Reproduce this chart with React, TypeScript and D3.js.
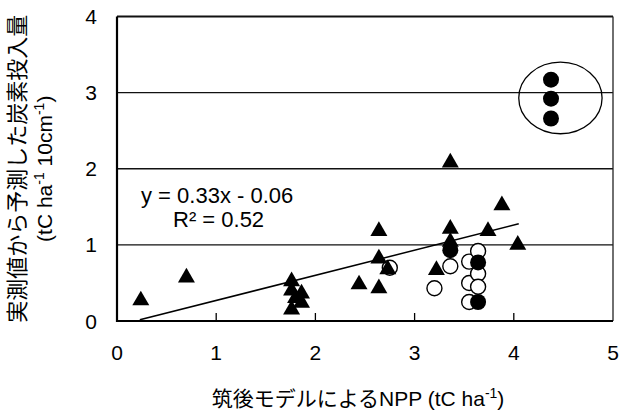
import { useEffect, useRef } from 'react';
import * as d3 from 'd3';

// 三角: 予測値との比較データ
const triangles: [number, number][] = [
  [0.24, 0.27], [0.7, 0.57],
  [1.76, 0.52], [1.76, 0.4], [1.8, 0.3], [1.76, 0.15], [1.86, 0.36], [1.86, 0.24],
  [2.44, 0.48], [2.64, 1.18], [2.64, 0.82], [2.64, 0.43], [2.73, 0.68],
  [3.22, 0.67], [3.36, 2.08], [3.36, 1.21], [3.36, 1.04],
  [3.74, 1.18], [3.88, 1.52], [4.04, 1.0],
];
const openCircles: [number, number][] = [
  [2.75, 0.7], [3.2, 0.43], [3.36, 0.72],
  [3.55, 0.78], [3.55, 0.5], [3.55, 0.25],
  [3.64, 0.92], [3.64, 0.62], [3.64, 0.45],
];
const filledCircles: [number, number][] = [
  [3.36, 0.93], [3.64, 0.77], [3.64, 0.25],
  [4.375, 3.17], [4.375, 2.92], [4.375, 2.66],
];
const xTicks = [0, 1, 2, 3, 4, 5];
const yTicks = [0, 1, 2, 3, 4];
const trend = { slope: 0.33, intercept: -0.06, x0: 0.23, x1: 4.05 };
const outlier = { cx: 4.47, cy: 2.93, rx: 0.42, ry: 0.47 };

const width = 620;
const height = 414;
const latin = "'Liberation Sans', Arial, 'Noto Sans CJK JP', sans-serif";
const cjk = "'Noto Sans CJK JP', sans-serif";

const App = () => {
  const svgRef = useRef<SVGSVGElement>(null);

  useEffect(() => {
    document.body.style.margin = '0';
    const svg = d3.select(svgRef.current);
    svg.selectAll('*').remove();

    const x = d3.scaleLinear().domain([0, 5]).range([117, 613]);
    const y = d3.scaleLinear().domain([0, 4]).range([321, 16.5]);

    svg.append('rect').attr('width', width).attr('height', height).attr('fill', '#fff');

    // グリッド線
    svg.selectAll('.grid')
      .data(yTicks.filter(d => d > 0))
      .enter().append('line')
      .attr('x1', x(0)).attr('x2', x(5))
      .attr('y1', d => y(d)).attr('y2', d => y(d))
      .attr('stroke', '#111')
      .attr('stroke-width', d => (d === 4 ? 1.8 : 1.3));

    // 右枠
    svg.append('line')
      .attr('x1', x(5)).attr('x2', x(5))
      .attr('y1', y(4)).attr('y2', y(0))
      .attr('stroke', '#222').attr('stroke-width', 1.3);

    // x軸の目盛り (内向き)
    svg.selectAll('.xtick')
      .data(xTicks.slice(1, -1))
      .enter().append('line')
      .attr('x1', d => x(d)).attr('x2', d => x(d))
      .attr('y1', y(0)).attr('y2', y(0) - 8)
      .attr('stroke', '#000').attr('stroke-width', 1.3);

    // 軸
    svg.append('line')
      .attr('x1', x(0)).attr('x2', x(5))
      .attr('y1', y(0)).attr('y2', y(0))
      .attr('stroke', '#000').attr('stroke-width', 2.2);
    svg.append('line')
      .attr('x1', x(0)).attr('x2', x(0))
      .attr('y1', y(4)).attr('y2', y(0) + 1)
      .attr('stroke', '#000').attr('stroke-width', 2.2);

    // 目盛りラベル
    svg.selectAll('.xlab')
      .data(xTicks)
      .enter().append('text')
      .attr('x', d => x(d)).attr('y', 360)
      .attr('text-anchor', 'middle')
      .attr('font-family', latin).attr('font-size', 21)
      .text(d => d);
    svg.selectAll('.ylab')
      .data(yTicks)
      .enter().append('text')
      .attr('x', 97).attr('y', d => y(d) + 7.5)
      .attr('text-anchor', 'end')
      .attr('font-family', latin).attr('font-size', 21)
      .text(d => d);

    // 回帰直線
    svg.append('line')
      .attr('x1', x(trend.x0)).attr('y1', y(trend.slope * trend.x0 + trend.intercept))
      .attr('x2', x(trend.x1)).attr('y2', y(trend.slope * trend.x1 + trend.intercept))
      .attr('stroke', '#000').attr('stroke-width', 1.5);

    // 白丸
    svg.selectAll('.open')
      .data(openCircles)
      .enter().append('circle')
      .attr('cx', d => x(d[0])).attr('cy', d => y(d[1]))
      .attr('r', 7.5)
      .attr('fill', '#fff').attr('stroke', '#000').attr('stroke-width', 1.4);

    // 三角
    const tri = d3.symbol().type(d3.symbolTriangle).size(125);
    svg.selectAll('.tri')
      .data(triangles)
      .enter().append('path')
      .attr('transform', d => `translate(${x(d[0])},${y(d[1])})`)
      .attr('d', tri)
      .attr('fill', '#000');

    // 黒丸
    svg.selectAll('.filled')
      .data(filledCircles)
      .enter().append('circle')
      .attr('cx', d => x(d[0])).attr('cy', d => y(d[1]))
      .attr('r', 8)
      .attr('fill', '#000');

    // 外れ値の楕円
    svg.append('ellipse')
      .attr('cx', x(outlier.cx)).attr('cy', y(outlier.cy))
      .attr('rx', x(outlier.rx) - x(0)).attr('ry', y(0) - y(outlier.ry))
      .attr('fill', 'none').attr('stroke', '#000').attr('stroke-width', 1.3);

    // 回帰式
    svg.append('text')
      .attr('x', 141).attr('y', 203)
      .attr('font-family', latin).attr('font-size', 22)
      .text('y = 0.33x - 0.06');
    svg.append('text')
      .attr('x', 173).attr('y', 227)
      .attr('font-family', latin).attr('font-size', 22)
      .text('R² = 0.52');

    // x軸タイトル
    const xt = svg.append('text')
      .attr('x', 358).attr('y', 406)
      .attr('text-anchor', 'middle')
      .attr('font-size', 21);
    xt.append('tspan').attr('font-family', cjk).text('筑後モデルによる');
    xt.append('tspan').attr('font-family', latin).text('NPP (tC ha');
    xt.append('tspan').attr('font-family', latin).attr('font-size', 14).attr('dy', -8).text('-1');
    xt.append('tspan').attr('font-family', latin).attr('dy', 8).text(')');

    // y軸タイトル
    const yg = svg.append('g').attr('transform', `translate(0,${(y(0) + y(4)) / 2}) rotate(-90)`);
    yg.append('text')
      .attr('x', 0).attr('y', 25)
      .attr('text-anchor', 'middle')
      .attr('font-family', cjk).attr('font-size', 22)
      .text('実測値から予測した炭素投入量');
    const yt = yg.append('text')
      .attr('x', 0).attr('y', 52)
      .attr('text-anchor', 'middle')
      .attr('font-family', latin).attr('font-size', 21);
    yt.append('tspan').text('(tC ha');
    yt.append('tspan').attr('font-size', 14).attr('dy', -8).text('-1');
    yt.append('tspan').attr('dy', 8).text(' 10cm');
    yt.append('tspan').attr('font-size', 14).attr('dy', -8).text('-1');
    yt.append('tspan').attr('dy', 8).text(')');
  }, []);

  return <svg ref={svgRef} width={width} height={height} style={{ display: 'block' }}></svg>;
};

export default App;
